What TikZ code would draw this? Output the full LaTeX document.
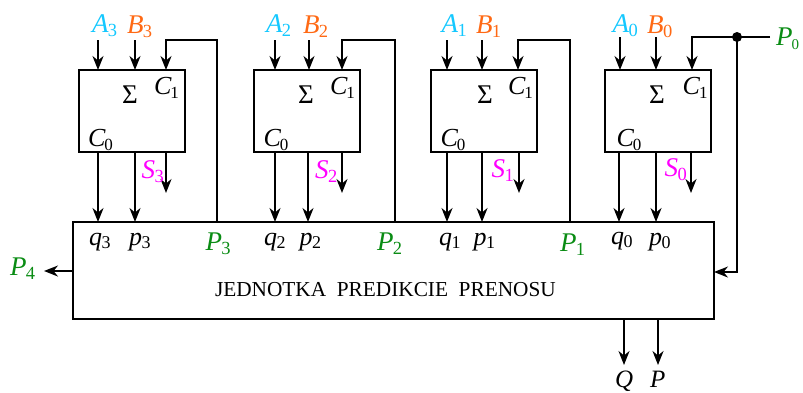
\documentclass[tikz,border=0pt]{standalone}
\usepackage{fontspec}
\setmainfont{Liberation Serif}
\usetikzlibrary{arrows.meta}
\definecolor{cA}{RGB}{20,200,255}
\definecolor{cB}{RGB}{255,105,20}
\definecolor{cS}{RGB}{255,0,255}
\definecolor{cP}{RGB}{10,140,20}
\newcommand{\lab}[2]{{\fontsize{27}{27}\selectfont\itshape #1}\kern-0.5pt\raisebox{-4pt}{\fontsize{18.5}{18.5}\selectfont #2}}
\newcommand{\labc}[2]{{\fontsize{26}{26}\selectfont\itshape #1}\kern-1pt\raisebox{-4pt}{\fontsize{17}{17}\selectfont #2}}
\newcommand{\labs}[2]{{\fontsize{26}{26}\selectfont\itshape #1}\kern-0.5pt\raisebox{-3pt}{\fontsize{18}{18}\selectfont #2}}
\tikzset{
  wire/.style={line width=1.7pt,line join=miter},
  arr/.style={wire,-{Stealth[length=14pt,width=11pt,inset=4.5pt]}},
  blk/.style={draw,line width=1.7pt,inner sep=0pt,outer sep=0pt,rectangle},
  txt/.style={anchor=base west,inner sep=0pt,outer sep=0pt},
  dotn/.style={circle,fill=black,inner sep=0pt,minimum size=10pt}
}
\begin{document}
\begin{tikzpicture}[x=1pt,y=-1pt]
\useasboundingbox (0,0) rectangle (803,392);
% big unit
\node[blk,minimum width=641pt,minimum height=97pt,anchor=north west] (big) at (73,222) {};
\node[txt,font=\fontsize{21.3}{21.3}\selectfont] (title) at (215,296) {JEDNOTKA\ \ PREDIKCIE\ \ PRENOSU};
% adders
\foreach \i/\L/\Ax/\Bx/\Cx/\qx/\px/\Sx/\Rx/\T in {
 3/79/98/135/166/98/135/166/217/40,
 2/254/275/309/342/275/308/342/395/40,
 1/431/447/482/518/447/482/519/570/40,
 0/605/620/656/692/619/656/691/737/37}{
  \node[blk,minimum width=106pt,minimum height=82pt,anchor=north west] (b\i) at (\L,70) {};
  \coordinate (a\i) at (\Ax,\T);
  \coordinate (e\i) at (\Bx,\T);
  \coordinate (c\i) at (\Cx,\T);
  \coordinate (q\i) at (\qx,0);
  \coordinate (p\i) at (\px,0);
  \coordinate (s\i) at (\Sx,193);
  \coordinate (r\i) at (\Rx,\T);
  \draw[arr] (a\i) -- (a\i |- b\i.north);
  \draw[arr] (e\i) -- (e\i |- b\i.north);
  \draw[arr] (q\i |- b\i.south) -- (q\i |- big.north);
  \draw[arr] (p\i |- b\i.south) -- (p\i |- big.north);
  \draw[arr] (s\i |- b\i.south) -- (s\i);
}
\foreach \i in {3,2,1}{
  \draw[arr] (r\i |- big.north) -- (r\i) -- (c\i) -- (c\i |- b\i.north);
}
% P0
\node[dotn] (dot) at (r0) {};
\coordinate (pz) at (770,37);
\draw[wire] (pz) -- (dot.center);
\draw[arr] (dot.center) -- (c0) -- (c0 |- b0.north);
\coordinate (bend) at (737,272);
\draw[arr] (dot.center) -- (bend) -- (bend -| big.east);
% P4, Q, P
\coordinate (p4) at (44,271);
\draw[arr] (p4 -| big.west) -- (p4);
\coordinate (qq) at (624,365);
\coordinate (pp) at (658,365);
\draw[arr] (qq |- big.south) -- (qq);
\draw[arr] (pp |- big.south) -- (pp);
% top labels
\foreach \d/\x/\y/\v in {3/92/32/A,2/266/32/A,1/441.7/32/A,0/612.5/32/A}
  \node[txt,text=cA] (lA\d) at (\x,\y) {\lab{\v}{\d}};
\foreach \d/\x in {3/127,2/303,1/476,0/647}
  \node[txt,text=cB] (lB\d) at (\x,33) {\lab{B}{\d}};
% inner labels
\foreach \d/\cone/\sg/\czero in {3/154/122/88,2/330/298/263.5,1/508/477/440.5,0/682.7/649/616.5}{
  \node[txt] (lC\d) at (\cone,94) {\labc{C}{1}};
  \node[txt,font=\fontsize{27}{27}\selectfont] (lG\d) at (\sg,103) {Σ};
  \node[txt] (lD\d) at (\czero,146) {\labc{C}{0}};
}
\foreach \d/\x/\y in {3/141.5/178,2/315/178,1/491.7/177,0/664.7/176}
  \node[txt,text=cS] (lS\d) at (\x,\y) {\lab{S}{\d}};
\foreach \d/\x/\y in {3/89/245,2/264/245,1/439/245,0/611/244}
  \node[txt] (lq\d) at (\x,\y) {\labs{q}{\d}};
\foreach \d/\x/\y in {3/129/245,2/299.5/245,1/473.5/245,0/649/245}
  \node[txt] (lp\d) at (\x,\y) {\labs{p}{\d}};
\foreach \d/\x/\y in {3/205.5/250,2/377/250,1/560/251,4/10/275}
  \node[txt,text=cP] (lP\d) at (\x,\y) {\lab{P}{\d}};
\node[txt,text=cP] (lP0) at (776,45) {{\fontsize{27}{27}\selectfont\itshape P}\kern-1pt\raisebox{-4pt}{\fontsize{15}{15}\selectfont 0}};
\node[txt] (lQ) at (615,387) {{\fontsize{25}{25}\selectfont\itshape Q}};
\node[txt] (lPP) at (650,387) {{\fontsize{25}{25}\selectfont\itshape P}};
\end{tikzpicture}
\end{document}
